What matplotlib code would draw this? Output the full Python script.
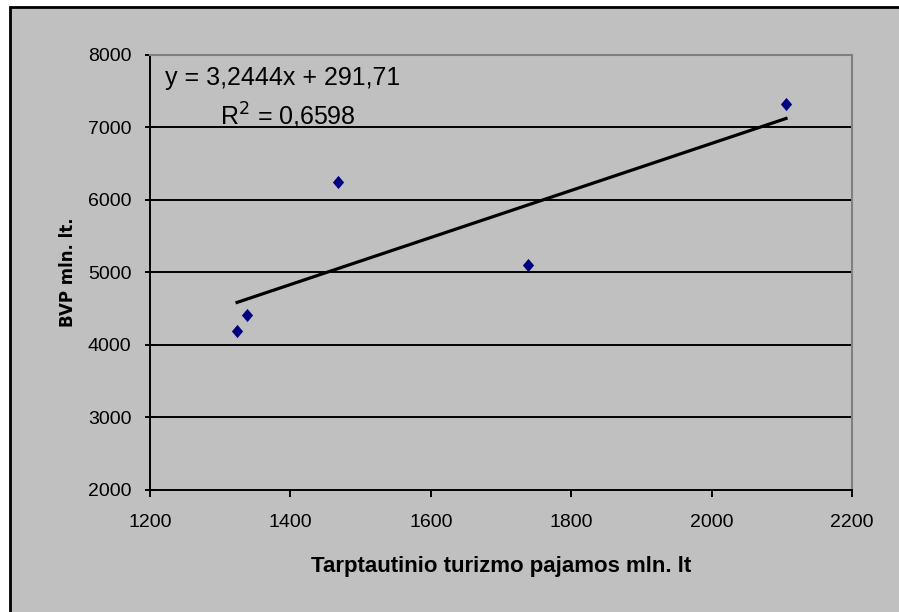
import matplotlib.pyplot as plt
from matplotlib.patches import Rectangle

# Tarptautinio turizmo pajamos ir BVP, mln. lt
pajamos = [1324, 1338, 1468, 1738, 2106]
bvp = [4193, 4414, 6248, 5103, 7324]

# tiesinio trendo koeficientai
k = 3.2444
b = 291.71
r2 = 0.6598

plt.rcParams['font.family'] = ['Liberation Sans', 'DejaVu Sans']

fig = plt.figure(figsize=(8.99, 6.12), dpi=100, facecolor='white')

# pilkas diagramos fonas su juodu remu
fig.patches.append(Rectangle((9.5 / 899, -1), 3, 2 - 6.5 / 612,
                             transform=fig.transFigure, facecolor='#c0c0c0',
                             edgecolor='black', linewidth=2, zorder=-5))

ax = fig.add_axes([150 / 899, 122 / 612, 702 / 899, 435 / 612])
ax.set_facecolor('#c0c0c0')

ax.set_xlim(1200, 2200)
ax.set_ylim(2000, 8000)
ax.set_xticks(range(1200, 2201, 200))
ax.set_yticks(range(2000, 8001, 1000))

for y in range(3000, 8000, 1000):
    ax.axhline(y, color='black', linewidth=1.4, zorder=1)

x0, x1 = min(pajamos), max(pajamos)
ax.plot([x0, x1], [k * x0 + b, k * x1 + b], color='black', linewidth=2.3, zorder=2)

# rombas, siek tiek aukstesnis nei platesnis
rombas = [(0, 1), (0.85, 0), (0, -1), (-0.85, 0), (0, 1)]
ax.plot(pajamos, bvp, linestyle='none', marker=rombas, markersize=9.5,
        color='#000080', markeredgewidth=0, zorder=3)

ax.spines['top'].set_color('#808080')
ax.spines['right'].set_color('#808080')
ax.spines['top'].set_linewidth(1.5)
ax.spines['right'].set_linewidth(1.5)
ax.spines['left'].set_linewidth(1.4)
ax.spines['bottom'].set_linewidth(1.4)

ax.tick_params(axis='y', direction='inout', length=7, width=1.4, labelsize=14, pad=10)
ax.tick_params(axis='x', direction='out', length=5, width=1.4, labelsize=14, pad=12)

ax.set_xlabel('Tarptautinio turizmo pajamos mln. lt', fontsize=16,
              fontweight='bold', labelpad=18)
ax.set_ylabel('BVP mln. lt.', fontsize=12, fontweight='bold',
              family='DejaVu Sans', labelpad=8)

ax.text(1222, 7680, 'y = 3,2444x + 291,71', fontsize=18, va='center')
ax.text(1300, 7160, 'R$^2$ = 0,6598', fontsize=18, va='center')

fig.savefig('out.png', dpi=100, facecolor=fig.get_facecolor())
